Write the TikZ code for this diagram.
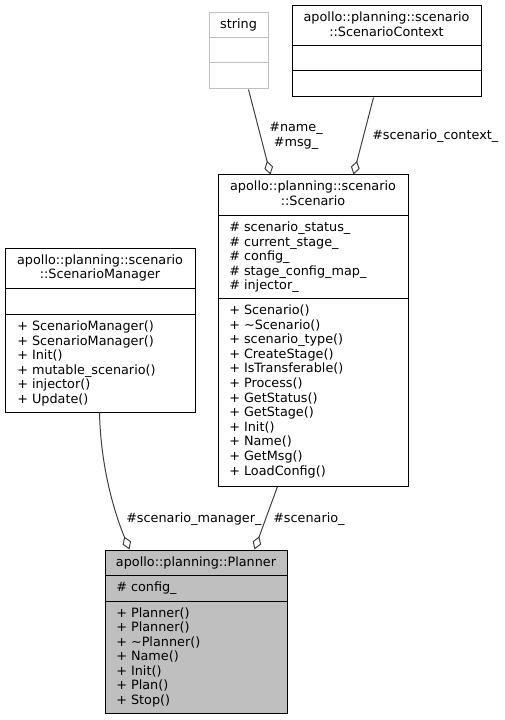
\documentclass[tikz,border=0pt]{standalone}
\usepackage{fontspec}
\setmainfont{DejaVu Sans}
\usetikzlibrary{fit,calc,arrows.meta}
\definecolor{edgegray}{HTML}{404040}
\definecolor{lightframe}{HTML}{BFBFBF}
\definecolor{plannerfill}{HTML}{BFBFBF}
\begin{document}
\begin{tikzpicture}[x=0.75pt,y=-0.75pt,
  classbox/.style={draw=black, line width=0.75pt, inner sep=0pt},
  txt/.style={inner sep=0pt, font=\fontsize{9.6pt}{10.9pt}\selectfont, anchor=base west},
  ttl/.style={txt, anchor=base},
  divider/.style={draw=black, line width=0.75pt},
  assoc/.style={draw=edgegray, line width=0.75pt, -{Diamond[length=10.5pt,width=6.75pt,fill=white]}}]
\useasboundingbox (0,0) rectangle (505,720);

% string
\node[classbox, draw=lightframe, fit={(209,13) (268,89)}] (string) {};
\draw[draw=lightframe, line width=0.75pt] (209,38) -- (268,38) (209,63) -- (268,63);
\node[ttl] (stringt) at (238.5,29) {string};

% ScenarioContext
\node[classbox, fit={(292,6) (481,97)}] (ctx) {};
\draw[divider] (292,46) -- (481,46) (292,71) -- (481,71);
\node[ttl] (ctxt1) at (386.5,22) {apollo::planning::scenario};
\node[ttl] (ctxt2) at (386.5,36.5) {::ScenarioContext};

% Scenario
\node[classbox, fit={(218,175) (408,486)}] (scen) {};
\draw[divider] (218,216) -- (408,216) (218,298) -- (408,298);
\node[ttl] (scent1) at (313,191) {apollo::planning::scenario};
\node[ttl] (scent2) at (313,205.5) {::Scenario};
\foreach \t [count=\i] in {\# scenario\_status\_,\# current\_stage\_,\# config\_,\# stage\_config\_map\_,\# injector\_}
  \node[txt] (scena\i) at (229,{231.5+(\i-1)*14.5}) {\t};
\foreach \t [count=\i] in {+ Scenario(),+ \textasciitilde Scenario(),+ scenario\_type(),+ CreateStage(),+ IsTransferable(),+ Process(),+ GetStatus(),+ GetStage(),+ Init(),+ Name(),+ GetMsg(),+ LoadConfig()}
  \node[txt] (scenm\i) at (229,{314.5+(\i-1)*14.6}) {\t};

% ScenarioManager
\node[classbox, fit={(5,248) (195,412)}] (smgr) {};
\draw[divider] (5,288) -- (195,288) (5,314) -- (195,314);
\node[ttl] (smgrt1) at (100,264) {apollo::planning::scenario};
\node[ttl] (smgrt2) at (100,278.5) {::ScenarioManager};
\foreach \t [count=\i] in {+ ScenarioManager(),+ ScenarioManager(),+ Init(),+ mutable\_scenario(),+ injector(),+ Update()}
  \node[txt] (smgrm\i) at (17,{330.5+(\i-1)*14.5}) {\t};

% Planner
\node[classbox, fill=plannerfill, fit={(105,550) (287,713)}] (planner) {};
\draw[divider] (105,575) -- (287,575) (105,601) -- (287,601);
\node[ttl] (plant) at (196,566) {apollo::planning::Planner};
\node[txt] (plana1) at (116,591) {\# config\_};
\foreach \t [count=\i] in {+ Planner(),+ Planner(),+ \textasciitilde Planner(),+ Name(),+ Init(),+ Plan(),+ Stop()}
  \node[txt] (planm\i) at (116,{617+(\i-1)*14.5}) {\t};

% connectors
\draw[assoc] ($(string.south west)+(40,0)$) -- ($(scen.north west)+(53,0)$);
\draw[assoc] ($(ctx.south west)+(82,0)$) -- ($(scen.north west)+(136,0)$);
\draw[assoc] ($(smgr.south west)+(95,0)$) .. controls ($(smgr.south west)+(96,48)$) and ($(smgr.south west)+(107,93)$) .. ($(planner.north west)+(25,0)$);
\draw[assoc] ($(scen.south west)+(60,0)$) -- ($(planner.north west)+(150,0)$);

% labels
\node[ttl] (lblname) at (296,132) {\#name\_};
\node[ttl] (lblmsg) at (296,146.5) {\#msg\_};
\node[txt] (lblctx) at (372,139.5) {\#scenario\_context\_};
\node[txt] (lblsmgr) at (126,522) {\#scenario\_manager\_};
\node[txt] (lblscen) at (273,522) {\#scenario\_};
\end{tikzpicture}
\end{document}
